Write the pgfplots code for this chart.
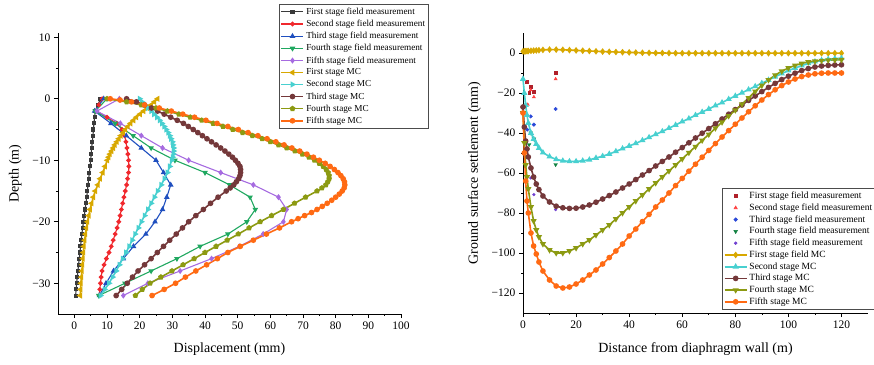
\documentclass[border=0pt]{standalone}
\usepackage{fontspec}
\setmainfont{Liberation Serif}
\usepackage{pgfplots}
\pgfplotsset{compat=1.18}
\definecolor{cBlk}{HTML}{3A3A3A}
\definecolor{cRed}{HTML}{F0282D}
\definecolor{cBlu}{HTML}{1F4FBF}
\definecolor{cGrn}{HTML}{20A860}
\definecolor{cPur}{HTML}{A66BE0}
\definecolor{cGld}{HTML}{D8A800}
\definecolor{cCyn}{HTML}{48D0D0}
\definecolor{cBrn}{HTML}{74383A}
\definecolor{cOlv}{HTML}{8C9A12}
\definecolor{cOrg}{HTML}{FF6A13}
\definecolor{rF1}{HTML}{B0202A}
\definecolor{rF2}{HTML}{FF4040}
\definecolor{rF3}{HTML}{2A48D8}
\definecolor{rF4}{HTML}{108040}
\definecolor{rF5}{HTML}{7040D0}
\pgfplotsset{
  common/.style={
    scale only axis, axis lines*=left, clip=false,
    tick align=outside, major tick length=4pt, minor tick length=2pt,
    minor tick num=1, tick style={black, line width=0.6pt},
    axis line style={black, line width=0.8pt},
    ticklabel style={font=\fontsize{11.5}{12}\selectfont},
    label style={font=\fontsize{14}{16}\selectfont},
    xlabel style={yshift=-7pt},
    ylabel style={yshift=4pt},
    /pgf/number format/assume math mode=true,
    legend cell align=left,
    legend style={font=\fontsize{9.2}{10}\selectfont, draw=black!70, line width=0.6pt, inner sep=1.5pt, row sep=0.2pt},
    legend image code/.code={\draw[mark repeat=2,mark phase=2,##1] plot coordinates {(0pt,0pt) (11pt,0pt) (22pt,0pt)};},
  },
  fm/.style={line width=1.1pt, mark size=1.8pt},
  mc/.style={line width=1.6pt, mark size=2pt},
  rf/.style={only marks, mark size=1.8pt},
}
\begin{document}
\begin{tikzpicture}
\path[use as bounding box] (0,0) rectangle (874pt,364pt);
% ---------------- left ----------------
\begin{axis}[common, at={(58pt,50pt)}, anchor=south west, width=343pt, height=281pt,
  xmin=-5, xmax=100, ymin=-35, ymax=10.7,
  xtick={0,10,...,100}, ytick={-30,-20,-10,0,10}, yticklabels={−30,−20,−10,0,10},
  xlabel={Displacement (mm)}, ylabel={Depth (m)},
  legend style={at={(0.644,1.103)}, anchor=north west}]
\addplot[fm, color=cBlk, mark=square*, mark size=1.5pt] coordinates {(8,0)(7.2,-1)(6.4,-2)(6.2,-3)(6.0,-4)(5.85,-5)(5.7,-6)(5.5,-7)(5.3,-8)(5.15,-9)(5.0,-10)(4.8,-11)(4.6,-12)(4.4,-13)(4.2,-14)(4.0,-15)(3.8,-16)(3.55,-17)(3.3,-18)(3.05,-19)(2.8,-20)(2.55,-21)(2.3,-22)(2.1,-23)(1.9,-24)(1.7,-25)(1.5,-26)(1.3,-27)(1.1,-28)(0.9,-29)(0.7,-30)(0.55,-31)(0.4,-32)};
\addlegendentry{First stage field measurement}
\addplot[fm, color=cRed, mark=*] coordinates {(8.5,0)(7.5,-1)(6.8,-2)(10,-3)(13,-4)(14.6,-5)(15.4,-6)(15.8,-7)(16.1,-8)(16.4,-9)(16.6,-10)(16.7,-11)(16.6,-12)(16.3,-13)(16,-14)(15.6,-15)(15.2,-16)(14.8,-17)(14.4,-18)(14,-19)(13.6,-20)(13.1,-21)(12.5,-22)(11.9,-23)(11.3,-24)(10.6,-25)(9.8,-26)(9.1,-27)(8.5,-28)(8.2,-29)(8,-30)(7.8,-31)(7.6,-32)};
\addlegendentry{Second stage field measurement}
\addplot[fm, color=cBlu, mark=triangle*, mark size=2.2pt] coordinates {(9,0)(6.2,-2)(11.2,-4)(15.9,-6)(20.5,-8)(25,-10)(27.3,-12)(29.5,-14)(28.3,-16)(27,-18)(24.7,-20)(21.9,-22)(18.1,-24)(15,-26)(12,-28)(9.7,-30)(7.7,-32)};
\addlegendentry{Third stage field measurement}
\addplot[fm, color=cGrn, mark=triangle*, mark size=2.2pt, mark options={rotate=180}] coordinates {(10,0)(6.4,-2)(12.5,-4)(18,-6)(23.5,-8)(30.8,-10)(40,-12)(47.5,-14)(53.8,-16)(55.4,-18)(52.8,-20)(47,-22)(38.5,-24)(31.4,-26)(23.5,-28)(15.5,-30)(7.5,-32)};
\addlegendentry{Fourth stage field measurement}
\addplot[fm, color=cPur, mark=diamond*, mark size=2.2pt] coordinates {(13.8,0)(6.9,-2)(14.1,-4)(20.5,-6)(27,-8)(35,-10)(44.8,-12)(54.8,-14)(62.5,-16)(65,-18)(64,-20)(57.8,-22)(50.5,-24)(42,-26)(32.4,-28)(22.5,-30)(15,-32)};
\addlegendentry{Fifth stage field measurement}
\addplot[mc, color=cGld, mark=triangle*, mark options={rotate=90}] coordinates {(25.5,0)(24.5,-0.5)(23.5,-1)(22.4,-1.5)(21.2,-2)(20.1,-2.5)(19,-3)(18.1,-3.5)(17.2,-4)(16.4,-4.5)(15.6,-5)(14.9,-5.5)(14.2,-6)(13.6,-6.5)(13,-7)(12.4,-7.5)(11.9,-8)(11.4,-8.5)(10.9,-9)(10.5,-9.5)(10.1,-10)(9.4,-11)(8.7,-12)(7.9,-13)(7.2,-14)(6.4,-15)(5.8,-16)(5.3,-17)(4.8,-18)(4.4,-19)(4.0,-20)(3.7,-21)(3.4,-22)(3.15,-23)(2.9,-24)(2.75,-25)(2.6,-26)(2.45,-27)(2.3,-28)(2.15,-29)(2.0,-30)(1.9,-31)(1.8,-32)};
\addlegendentry{First stage MC}
\addplot[mc, color=cCyn, mark=triangle*, mark options={rotate=-90}] coordinates {(20,0)(20.7,-0.5)(21.5,-1)(22.5,-1.5)(23.5,-2)(24.4,-2.5)(25.3,-3)(26.1,-3.5)(26.8,-4)(27.5,-4.5)(28.1,-5)(28.7,-5.5)(29.2,-6)(29.6,-6.5)(30,-7)(30.2,-7.5)(30.4,-8)(30.4,-8.5)(30.3,-9)(30.1,-9.5)(29.8,-10)(29.2,-11)(28.5,-12)(27.6,-13)(26.6,-14)(25.5,-15)(24.5,-16)(23.5,-17)(22.5,-18)(21.5,-19)(20.5,-20)(19.6,-21)(18.6,-22)(17.7,-23)(16.8,-24)(15.8,-25)(14.8,-26)(13.8,-27)(12.8,-28)(11.7,-29)(10.6,-30)(9.3,-31)(8,-32)};
\addlegendentry{Second stage MC}
\addplot[mc, color=cBrn, mark=*] coordinates {(16,0)(19,-0.5)(21.5,-1)(23.6,-1.5)(25.5,-2)(27.5,-2.5)(29.5,-3)(31.5,-3.5)(33.4,-4)(34.9,-4.5)(36.4,-5)(37.8,-5.5)(39.2,-6)(40.6,-6.5)(42,-7)(43.4,-7.5)(44.8,-8)(46.1,-8.5)(47.3,-9)(48.4,-9.5)(49.3,-10)(50.1,-10.5)(50.7,-11)(50.9,-11.5)(50.9,-12)(50.7,-12.5)(50.3,-13)(49.6,-13.5)(48.8,-14)(47.7,-14.5)(46.5,-15)(44,-16)(41.7,-17)(39.5,-18)(37.2,-19)(35,-20)(33.1,-21)(31.2,-22)(29.2,-23)(27.3,-24)(25.4,-25)(23.5,-26)(21.5,-27)(19.5,-28)(17.8,-29)(16.2,-30)(14.5,-31)(12.8,-32)};
\addlegendentry{Third stage MC}
\addplot[mc, color=cOlv, mark=pentagon*] coordinates {(10,0)(16,-0.5)(20.5,-1)(25,-1.5)(28.5,-2)(32,-2.5)(35.5,-3)(39,-3.5)(42.5,-4)(45.5,-4.5)(48.5,-5)(51.5,-5.5)(54.5,-6)(57.5,-6.5)(60,-7)(62.5,-7.5)(65,-8)(67.5,-8.5)(69.8,-9)(71.8,-9.5)(73.5,-10)(75,-10.5)(76.2,-11)(77.1,-11.5)(77.7,-12)(78,-12.5)(78,-13)(77.6,-13.5)(77,-14)(75.8,-14.5)(74.3,-15)(70.8,-16)(67.4,-17)(64,-18)(60.4,-19)(56.9,-20)(53.5,-21)(50.2,-22)(46.8,-23)(43.4,-24)(40,-25)(36.7,-26)(33.3,-27)(29.9,-28)(26.5,-29)(23.2,-30)(20.8,-31)(18.7,-32)};
\addlegendentry{Fourth stage MC}
\addplot[mc, color=cOrg, mark=*] coordinates {(11,0)(14,-0.2)(17.5,-0.5)(21.5,-1)(26,-1.5)(29.7,-2)(33.2,-2.5)(36.8,-3)(40.3,-3.5)(43.7,-4)(47,-4.5)(50.2,-5)(53.2,-5.5)(56.2,-6)(59,-6.5)(61.7,-7)(64.2,-7.5)(66.6,-8)(69,-8.5)(71.2,-9)(73.2,-9.5)(75,-10)(76.8,-10.5)(78.3,-11)(79.6,-11.5)(80.7,-12)(81.6,-12.5)(82.3,-13)(82.7,-13.5)(82.8,-14)(82.6,-14.5)(82,-15)(81.1,-15.5)(80,-16)(78.8,-16.5)(77.4,-17)(75.9,-17.5)(74.3,-18)(72.6,-18.5)(70.5,-19)(68.5,-19.5)(66.5,-20)(62.8,-21)(58.8,-22)(54.8,-23)(50.8,-24)(47,-25)(43.8,-26)(40.5,-27)(37.2,-28)(34,-29)(31,-30)(27.5,-31)(23.8,-32)};
\addlegendentry{Fifth stage MC}
\end{axis}
% ---------------- right ----------------
\begin{axis}[common, at={(523pt,51pt)}, anchor=south west, width=345pt, height=280pt,
  xmin=0, xmax=130, ymin=-130, ymax=10,
  xtick={0,20,...,120}, ytick={-120,-100,-80,-60,-40,-20,0},
  yticklabels={−120,−100,−80,−60,−40,−20,0},
  xlabel={Distance from diaphragm wall (m)}, ylabel={Ground surface settlement (mm)},
  legend style={at={(0.577,0.446)}, anchor=north west, font=\fontsize{9.5}{10}\selectfont, row sep=-0.4pt}]
\addplot[rf, color=rF1, mark=square*, mark size=1.4pt] coordinates {(1.4,-14.2)(2.9,-16.7)(4.1,-19.2)(2.3,-20)(12.3,-9.7)};
\addlegendentry{First stage field measurement}
\addplot[rf, color=rF2, mark=triangle*] coordinates {(1.8,-25.8)(2.9,-18.5)(4.1,-22)(12.3,-13)};
\addlegendentry{Second stage field measurement}
\addplot[rf, color=rF3, mark=*] coordinates {(1.6,-38.3)(2.9,-31.7)(4.1,-35.8)(12.3,-28)};
\addlegendentry{Third stage field measurement}
\addplot[rf, color=rF4, mark=triangle*, mark options={rotate=180}, mark size=2.1pt] coordinates {(2.3,-45.8)(2.9,-40)(4.1,-43)(12.3,-55.8)};
\addlegendentry{Fourth stage field measurement}
\addplot[rf, color=rF5, mark=*, mark size=1.4pt] coordinates {(1.4,-31)(2.9,-62.5)(4.1,-70.8)(12.3,-78.3)};
\addlegendentry{Fifth stage field measurement}
\addplot[mc, color=cGld, mark=diamond*, mark size=2.1pt] coordinates {(0,0.8)(0.5,0.85)(1,0.9)(1.5,0.95)(2,1)(3,1.1)(4,1.2)(5,1.3)(6,1.4)(7.5,1.55)(10,1.7)(12.5,1.7)(15,1.6)(17.5,1.45)(20,1.3)(22.5,1.15)(25,1)(27.5,0.85)(30,0.7)(32.5,0.6)(35,0.5)(37.5,0.4)(40,0.3)(42.5,0.2)(45,0.1)(47.5,0.05)(50,0)(52.5,0)(55,-0.05)(57.5,-0.1)(60,-0.1)(62.5,-0.1)(65,-0.1)(67.5,-0.1)(70,-0.1)(72.5,-0.1)(75,-0.1)(77.5,-0.1)(80,-0.1)(82.5,-0.1)(85,-0.1)(87.5,-0.1)(90,-0.1)(92.5,-0.1)(95,-0.1)(97.5,-0.1)(100,-0.1)(102.5,-0.1)(105,-0.1)(107.5,-0.1)(110,-0.1)(112.5,-0.1)(115,-0.1)(117.5,-0.1)(120,-0.1)};
\addlegendentry{First stage field MC}
\addplot[mc, color=cCyn, mark=triangle*] coordinates {(0,-13)(0.5,-20)(1,-26)(1.5,-31)(2,-35)(3,-40)(4,-43)(5,-45.5)(6,-47.5)(7.5,-49.8)(10,-51.8)(12.5,-53.2)(15,-53.9)(17.5,-54.2)(20,-54.2)(22.5,-53.9)(25,-53.4)(27.5,-52.5)(30,-51.6)(32.5,-50.5)(35,-49.2)(37.5,-47.8)(40,-46.5)(42.5,-45.2)(45,-43.7)(47.5,-42.2)(50,-40.7)(52.5,-39.2)(55,-37.6)(57.5,-36)(60,-34.3)(62.5,-32.8)(65,-31.1)(67.5,-29.5)(70,-28)(72.5,-26.3)(75,-24.8)(77.5,-23.1)(80,-21.5)(82.5,-19.9)(85,-18.3)(87.5,-16.7)(90,-15.1)(92.5,-13.5)(95,-11.9)(97.5,-10.3)(100,-8.8)(102.5,-7.5)(105,-6.3)(107.5,-5.2)(110,-4.3)(112.5,-3.6)(115,-3.1)(117.5,-2.8)(120,-2.6)};
\addlegendentry{Second stage MC}
\addplot[mc, color=cBrn, mark=*] coordinates {(0,-27)(0.5,-37)(1,-44)(1.5,-48)(2,-52)(3,-57.5)(4,-62)(5,-65.5)(6,-68.3)(7.5,-71.5)(10,-74.5)(12.5,-76.6)(15,-77.4)(17.5,-77.7)(20,-77.6)(22.5,-77)(25,-76)(27.5,-74.6)(30,-73)(32.5,-71.3)(35,-69.5)(37.5,-67.5)(40,-65.5)(42.5,-63.3)(45,-61)(47.5,-58.8)(50,-56.5)(52.5,-54.2)(55,-52)(57.5,-49.6)(60,-47.3)(62.5,-44.9)(65,-42.5)(67.5,-40.1)(70,-37.8)(72.5,-35.4)(75,-33)(77.5,-30.6)(80,-28.3)(82.5,-26)(85,-23.7)(87.5,-21.5)(90,-19.3)(92.5,-17.2)(95,-15.2)(97.5,-13.3)(100,-11.6)(102.5,-10.1)(105,-8.8)(107.5,-7.8)(110,-7)(112.5,-6.5)(115,-6.2)(117.5,-6)(120,-5.9)};
\addlegendentry{Third stage MC}
\addplot[mc, color=cOlv, mark=triangle*, mark options={rotate=180}] coordinates {(0,-30)(0.5,-45)(1,-56)(1.5,-62)(2,-68)(3,-77)(4,-84)(5,-88.5)(6,-92)(7.5,-95.5)(10,-98.5)(12.5,-100)(15,-100)(17.5,-99)(20,-97.5)(22.5,-95.5)(25,-93.5)(27.5,-91)(30,-88.5)(32.5,-86)(35,-83)(37.5,-80)(40,-77)(42.5,-74)(45,-71)(47.5,-68)(50,-65)(52.5,-62)(55,-59)(57.5,-56)(60,-53)(62.5,-49.8)(65,-46.8)(67.5,-43.7)(70,-40.7)(72.5,-37.6)(75,-34.6)(77.5,-31.5)(80,-28.6)(82.5,-25.6)(85,-22.5)(87.5,-19.2)(90,-16.2)(92.5,-13.5)(95,-11.1)(97.5,-9.1)(100,-7.5)(102.5,-6.2)(105,-5.2)(107.5,-4.5)(110,-4.1)(112.5,-3.8)(115,-3.6)(117.5,-3.5)(120,-3.4)};
\addlegendentry{Fourth stage MC}
\addplot[mc, color=cOrg, mark=*] coordinates {(0,-30)(0.5,-50)(1,-64)(1.5,-74)(2,-80)(3,-90)(4,-96.5)(5,-100.5)(6,-104.5)(7.5,-109)(10,-113.5)(12.5,-116.5)(15,-117.5)(17.5,-117)(20,-115.5)(22.5,-113.5)(25,-111)(27.5,-108.5)(30,-105.5)(32.5,-102.3)(35,-99)(37.5,-95.5)(40,-91.5)(42.5,-88)(45,-84.3)(47.5,-80.7)(50,-77)(52.5,-73.5)(55,-70)(57.5,-66.3)(60,-62.7)(62.5,-59.1)(65,-55.6)(67.5,-52.1)(70,-48.7)(72.5,-45.3)(75,-42)(77.5,-38.8)(80,-35.6)(82.5,-32.5)(85,-29.4)(87.5,-26.4)(90,-23.5)(92.5,-20.8)(95,-18.4)(97.5,-16.3)(100,-14.5)(102.5,-13)(105,-11.8)(107.5,-11)(110,-10.4)(112.5,-10.1)(115,-10)(117.5,-10)(120,-10)};
\addlegendentry{Fifth stage MC}
\end{axis}
\end{tikzpicture}
\end{document}
